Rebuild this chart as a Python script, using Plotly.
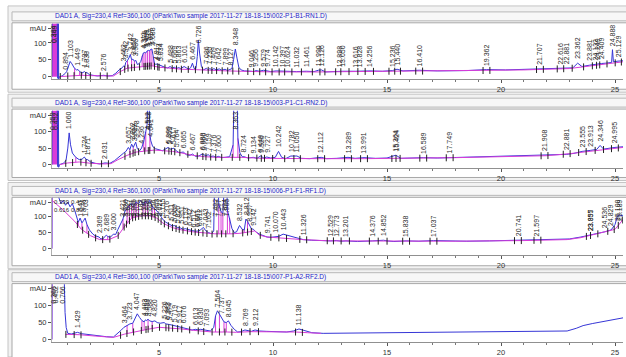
import numpy as np
import plotly.graph_objects as go

# ---------------------------------------------------------------------------
# Chromatogram data: (retention time [min], signal [mAU])
# ---------------------------------------------------------------------------
rn1_signal = [
    (0.30, 0), (0.32, 300), (0.52, 300), (0.54, 10), (0.56, -5), (0.58, 300), (0.60, -8), (0.63, 0),
    (0.75, 2), (0.85, 6), (0.894, 10), (0.95, 15), (1.02, 32), (1.103, 45), (1.18, 38), (1.28, 26),
    (1.38, 20), (1.449, 21), (1.52, 15), (1.62, 11), (1.737, 15), (1.78, 12), (1.838, 12), (1.95, 6),
    (2.1, 4), (2.3, 2), (2.576, 4), (2.75, 2), (2.95, 3), (3.1, 10), (3.25, 20), (3.38, 26),
    (3.452, 32), (3.50, 30), (3.542, 42), (3.62, 48), (3.70, 58), (3.742, 66), (3.80, 50), (3.855, 52),
    (3.92, 46), (3.986, 48), (4.05, 36), (4.12, 38), (4.20, 45), (4.26, 62), (4.311, 70), (4.376, 72),
    (4.42, 70), (4.459, 75), (4.531, 78), (4.58, 76), (4.617, 80), (4.688, 82), (4.74, 60), (4.80, 40),
    (4.86, 36), (4.917, 38), (4.973, 36), (5.034, 34), (5.12, 30), (5.25, 28), (5.38, 26), (5.488, 30),
    (5.58, 25), (5.669, 28), (5.76, 24), (5.863, 27), (5.95, 24), (6.02, 26), (6.101, 30), (6.2, 26),
    (6.32, 22), (6.40, 28), (6.467, 40), (6.54, 24), (6.62, 24), (6.68, 60), (6.726, 108), (6.78, 70),
    (6.86, 30), (6.95, 20), (7.086, 25), (7.16, 20), (7.23, 24), (7.32, 20), (7.409, 24), (7.5, 20),
    (7.642, 23), (7.75, 19), (7.899, 22), (8.0, 18), (8.127, 22), (8.2, 24), (8.27, 50), (8.348, 82),
    (8.42, 55), (8.5, 28), (8.6, 20), (8.75, 17), (9.046, 16), (9.15, 15), (9.256, 18), (9.4, 16),
    (9.579, 19), (9.774, 17), (9.9, 15), (10.142, 17), (10.397, 16), (10.624, 16), (11.032, 15),
    (11.461, 16), (11.8, 15), (11.990, 19), (12.126, 20), (12.3, 14), (12.898, 16), (13.050, 16),
    (13.616, 16), (13.828, 17), (14.256, 17), (14.8, 16), (15.236, 18), (15.440, 22), (15.7, 17),
    (16.410, 19), (17.2, 17), (18.5, 18), (19.362, 21), (20.2, 20), (21.707, 23), (22.2, 22),
    (22.616, 23), (22.881, 24), (23.15, 26), (23.362, 40), (23.55, 30), (23.881, 34), (24.132, 37),
    (24.249, 38), (24.409, 39), (24.6, 40), (24.85, 42), (24.888, 80), (24.93, 44), (25.129, 46),
    (25.35, 47),
]
rn1_baseline = [
    (0.62, 0), (1.0, 2), (1.6, 4), (2.0, 3), (2.6, 2), (3.0, 2), (3.3, 15), (3.6, 25), (4.0, 28),
    (4.3, 30), (4.7, 32), (5.0, 28), (5.5, 24), (6.0, 22), (6.5, 21), (7.0, 19), (7.5, 18), (8.0, 17),
    (8.6, 16), (9.0, 15), (10.0, 14), (12.0, 14), (15.0, 16), (18.0, 17), (21.0, 20), (23.0, 24),
    (24.0, 32), (25.35, 44),
]
rn1_peaks = [
    "0.364", "0.449", "0.894", "1.103", "1.449", "1.737", "1.838", "2.576", "3.452", "3.542", "3.742",
    "3.855", "3.986", "4.311", "4.376", "4.459", "4.531", "4.617", "4.688", "4.917", "4.973", "5.034",
    "5.488", "5.669", "5.863", "6.101", "6.467", "6.726", "7.086", "7.230", "7.409", "7.642", "7.899",
    "8.127", "8.348", "9.046", "9.256", "9.579", "9.774", "10.142", "10.397", "10.624", "11.032",
    "11.461", "11.990", "12.126", "12.898", "13.050", "13.616", "13.828", "14.256", "15.236", "15.440",
    "16.410", "19.362", "21.707", "22.616", "22.881", "23.362", "23.881", "24.132", "24.249", "24.409",
    "24.888", "25.129",
]
rn1_drops = [1.30, 1.52, 1.62, 1.78, 3.50, 3.62, 3.80, 3.92, 4.26, 4.34, 4.42, 4.50, 4.58, 4.65, 4.74]

rn2_signal = [
    (0.30, 0), (0.32, 300), (0.52, 300), (0.54, 5), (0.56, -6), (0.58, 300), (0.60, -8), (0.64, 0),
    (0.8, 4), (0.92, 12), (1.0, 50), (1.060, 96), (1.12, 60), (1.2, 35), (1.35, 22), (1.5, 15),
    (1.62, 16), (1.724, 23), (1.80, 16), (1.871, 15), (2.0, 8), (2.2, 4), (2.4, 2), (2.631, 5),
    (2.85, 4), (3.05, 12), (3.25, 25), (3.45, 35), (3.55, 40), (3.657, 52), (3.72, 45), (3.80, 62),
    (3.87, 52), (3.922, 60), (3.978, 68), (4.05, 48), (4.15, 42), (4.236, 50), (4.33, 70), (4.42, 100),
    (4.48, 122), (4.53, 300), (4.56, 300), (4.60, 90), (4.641, 72), (4.72, 55), (4.85, 48), (5.0, 44),
    (5.15, 42), (5.30, 48), (5.399, 52), (5.469, 48), (5.55, 46), (5.62, 50), (5.70, 44), (5.764, 42),
    (5.88, 36), (6.065, 38), (6.2, 30), (6.35, 28), (6.467, 32), (6.6, 25), (6.75, 26), (6.888, 32),
    (6.96, 30), (7.05, 27), (7.159, 30), (7.25, 24), (7.376, 26), (7.5, 22), (7.600, 25), (7.75, 21),
    (7.9, 22), (8.1, 24), (8.25, 60), (8.31, 300), (8.40, 300), (8.46, 80), (8.55, 35), (8.65, 24),
    (8.724, 24), (8.9, 20), (9.134, 22), (9.3, 19), (9.449, 26), (9.526, 24), (9.6, 20), (9.727, 23),
    (9.9, 20), (10.1, 22), (10.242, 40), (10.38, 22), (10.55, 18), (10.782, 26), (11.050, 26),
    (11.25, 19), (11.6, 18), (12.112, 22), (12.35, 18), (12.8, 19), (13.289, 22), (13.6, 19),
    (13.991, 21), (14.5, 19), (15.0, 20), (15.364, 28), (15.424, 27), (15.6, 19), (16.0, 20),
    (16.589, 21), (17.2, 20), (17.749, 21), (18.5, 22), (20.0, 25), (21.908, 28), (22.4, 28),
    (22.881, 31), (23.2, 34), (23.555, 40), (23.913, 43), (24.2, 46), (24.346, 58), (24.5, 47),
    (24.995, 52), (25.35, 54),
]
rn2_baseline = [
    (0.64, 0), (1.0, 5), (1.5, 8), (2.0, 4), (2.6, 2), (2.9, 3), (3.2, 15), (3.6, 28), (4.0, 38),
    (4.4, 42), (4.8, 44), (5.2, 42), (5.6, 40), (6.0, 35), (6.5, 28), (7.0, 24), (7.5, 22), (8.1, 22),
    (8.6, 22), (9.5, 19), (10.5, 18), (12.0, 18), (14.0, 18), (16.0, 19), (18.0, 21), (20.0, 24),
    (22.0, 27), (23.0, 33), (24.0, 42), (25.35, 52),
]
rn2_peaks = [
    "0.359", "0.452", "1.060", "1.724", "1.871", "2.631", "3.657", "3.802", "3.922", "3.978", "4.236",
    "4.512", "4.548", "4.641", "5.399", "5.469", "5.617", "5.764", "6.065", "6.467", "6.888", "6.960",
    "7.159", "7.376", "7.600", "8.363", "8.724", "9.134", "9.449", "9.526", "9.727", "10.242",
    "10.782", "11.050", "12.112", "13.289", "13.991", "15.364", "15.424", "16.589", "17.749",
    "21.908", "22.881", "23.555", "23.913", "24.346", "24.995",
]
rn2_drops = [1.35, 1.80, 3.72, 3.87, 4.33, 4.42, 4.60, 8.25, 8.46]

rf1_signal = [
    (0.30, 0), (0.31, 300), (0.50, 300), (0.60, 160), (0.70, 140), (0.80, 150), (0.90, 135),
    (1.00, 145), (1.10, 130), (1.20, 140), (1.30, 120), (1.40, 100), (1.46, 82), (1.54, 95),
    (1.62, 80), (1.70, 88), (1.76, 95), (1.84, 75), (1.95, 58), (2.1, 45), (2.2, 40), (2.369, 36),
    (2.45, 30), (2.56, 32), (2.689, 42), (2.75, 38), (2.86, 35), (3.000, 45), (3.1, 44), (3.2, 60),
    (3.3, 75), (3.42, 92), (3.5, 115), (3.6, 125), (3.7, 135), (3.8, 140), (3.9, 135), (4.0, 145),
    (4.1, 140), (4.2, 150), (4.3, 135), (4.4, 148), (4.5, 140), (4.6, 150), (4.7, 130), (4.8, 125),
    (4.9, 118), (5.0, 110), (5.1, 98), (5.2, 88), (5.3, 82), (5.4, 78), (5.511, 75), (5.6, 70),
    (5.669, 72), (5.8, 66), (5.95, 64), (6.05, 60), (6.153, 62), (6.3, 58), (6.45, 56), (6.6, 54),
    (6.75, 55), (6.812, 58), (6.95, 66), (7.043, 56), (7.162, 50), (7.3, 46), (7.4, 55), (7.46, 300),
    (7.55, 300), (7.62, 140), (7.72, 115), (7.80, 110), (7.86, 300), (7.94, 300), (8.0, 120),
    (8.1, 95), (8.2, 62), (8.3, 50), (8.4, 52), (8.532, 72), (8.65, 60), (8.74, 58), (8.812, 92),
    (8.88, 85), (8.957, 72), (9.05, 62), (9.142, 60), (9.25, 52), (9.4, 45), (9.55, 40), (9.741, 36),
    (9.9, 35), (10.070, 36), (10.25, 38), (10.443, 45), (10.6, 42), (10.8, 36), (11.0, 32),
    (11.326, 28), (11.7, 26), (12.1, 24), (12.529, 24), (12.773, 25), (13.0, 23), (13.201, 24),
    (13.7, 22), (14.376, 24), (14.852, 26), (15.0, 24), (15.3, 22), (15.838, 24), (16.4, 23),
    (17.037, 25), (17.5, 24), (18.5, 23), (19.5, 24), (20.741, 26), (21.2, 25), (21.597, 27),
    (22.3, 27), (23.0, 30), (23.5, 36), (23.895, 42), (23.957, 43), (24.3, 47), (24.536, 52),
    (24.829, 58), (25.0, 75), (25.100, 100), (25.189, 104), (25.35, 102),
]
rf1_baseline = [
    (0.31, 150), (0.8, 120), (1.3, 85), (1.6, 60), (2.0, 40), (2.4, 28), (2.8, 28), (3.2, 40),
    (3.5, 70), (3.8, 95), (4.2, 102), (4.6, 102), (4.9, 95), (5.2, 78), (5.6, 65), (6.0, 58),
    (6.5, 52), (7.0, 48), (7.3, 45), (7.45, 46), (8.2, 46), (8.6, 48), (9.2, 55), (9.4, 42),
    (9.741, 36), (10.5, 32), (11.3, 28), (12.5, 24), (15.0, 23), (18.0, 23), (21.0, 25), (22.9, 28),
    (23.5, 34), (24.5, 50), (25.0, 60), (25.35, 90),
]
rf1_peaks = [
    "1.541", "1.763", "2.369", "2.689", "3.000", "3.421", "3.520", "3.627", "3.781", "3.905", "4.031",
    "4.182", "4.340", "4.468", "4.600", "4.756", "4.903", "5.027", "5.155", "5.316", "5.511", "5.669",
    "5.826", "5.951", "6.153", "6.342", "6.512", "6.661", "6.812", "7.043", "7.162", "7.492", "7.597",
    "7.894", "7.966", "8.532", "8.812", "8.957", "9.142", "9.741", "10.070", "10.443", "11.326",
    "12.529", "12.773", "13.201", "14.376", "14.852", "15.838", "17.037", "20.741", "21.597",
    "23.895", "23.957", "24.536", "24.829", "25.100", "25.189",
]
rf1_front_peaks = ["0.339", "0.452", "0.616", "0.896"]
rf1_drops = [1.46, 1.62, 1.84, 2.2, 2.45, 2.56, 2.75, 3.42, 3.6, 3.7, 3.8, 3.9, 4.0, 4.1, 4.3, 4.4,
             4.5, 4.7, 4.8, 7.62, 7.72, 7.80, 8.0, 8.1, 8.65, 8.74, 8.88, 9.05]

rf2_signal = [
    (0.30, 0), (0.31, 300), (0.80, 300), (0.84, 150), (0.88, 80), (0.93, 35), (1.0, 18), (1.15, 16),
    (1.3, 19), (1.429, 21), (1.6, 17), (1.9, 14), (2.3, 11), (2.7, 8), (3.0, 7), (3.2, 18), (3.35, 28),
    (3.464, 36), (3.6, 42), (3.723, 46), (3.85, 48), (3.95, 60), (4.047, 76), (4.15, 65), (4.25, 56),
    (4.35, 52), (4.403, 58), (4.459, 56), (4.52, 60), (4.588, 55), (4.70, 53), (4.820, 55), (4.92, 50),
    (5.05, 48), (5.226, 50), (5.30, 46), (5.383, 46), (5.474, 44), (5.6, 42), (5.719, 40), (5.82, 38),
    (5.917, 37), (6.076, 35), (6.3, 30), (6.45, 28), (6.613, 30), (6.72, 28), (6.830, 30), (6.95, 28),
    (7.093, 26), (7.25, 25), (7.4, 35), (7.48, 70), (7.564, 85), (7.65, 75), (7.737, 65), (7.85, 52),
    (7.95, 50), (8.045, 55), (8.15, 42), (8.3, 30), (8.45, 22), (8.6, 23), (8.769, 28), (8.9, 26),
    (9.05, 24), (9.212, 28), (9.4, 25), (9.7, 24), (10.2, 24), (10.6, 22), (10.9, 25), (11.138, 31),
    (11.4, 26), (11.7, 20), (12.2, 18), (13.5, 19), (15.0, 20), (17.0, 20), (19.0, 21), (20.0, 22),
    (21.5, 23), (22.9, 25), (23.3, 33), (23.6, 41), (24.0, 47), (24.5, 53), (25.0, 58), (25.35, 64),
]
rf2_baseline = [
    (0.9, 15), (1.5, 14), (2.2, 10), (3.0, 6), (3.5, 16), (4.0, 24), (4.5, 30), (5.0, 36), (5.5, 34),
    (6.0, 31), (6.5, 27), (7.0, 23), (7.35, 22), (8.0, 22), (8.4, 21), (9.0, 23), (10.0, 23),
    (11.0, 22), (11.5, 20), (12.1, 18),
]
rf2_peaks = [
    "0.366", "0.452", "0.766", "1.429", "3.464", "3.723", "4.047", "4.403", "4.459", "4.588", "4.820",
    "5.226", "5.383", "5.474", "5.719", "5.917", "6.076", "6.613", "6.830", "7.093", "7.564", "7.737",
    "8.045", "8.769", "9.212", "11.138",
]
rf2_drops = [3.6, 3.85, 4.25, 4.35, 4.52, 4.70, 7.48, 7.65, 7.85, 7.95]

sample_files = ["002-P1-B1-RN1.D", "003-P1-C1-RN2.D", "006-P1-F1-RF1.D", "007-P1-A2-RF2.D"]
title_prefix = "DAD1 A, Sig=230,4 Ref=360,100 (0Park\\Two sample 2017-11-27 18-18-15\\"
x_ticks = [5, 10, 15, 20, 25]
y_ticks = [0, 50, 100]

# ---------------------------------------------------------------------------
# Page geometry (pixels) and styling
# ---------------------------------------------------------------------------
W, H = 626, 357
X_RANGE = [0.307, 25.35]
AX_LEFT, AX_RIGHT = 52, 623

# per panel: zero line px, px per mAU, axes top/bottom px, frames
panels_geom = [
    dict(zero=77.3, ppm=0.340, top=24.0, bottom=80.0, outer=(8, 6, 93), title=(12, 21), box=(23, 90)),
    dict(zero=166.0, ppm=0.333, top=111.7, bottom=169.3, outer=(8, 95, 182), title=(99, 108), box=(110, 179)),
    dict(zero=250.7, ppm=0.324, top=199.3, bottom=256.7, outer=(8, 184, 271), title=(188, 197), box=(199, 268)),
    dict(zero=342.3, ppm=0.340, top=286.7, bottom=345.0, outer=(8, 272, 360), title=(275, 284), box=(286, 362)),
]

panels_data = [
    dict(sig=rn1_signal, base=rn1_baseline, peaks=rn1_peaks, drops=rn1_drops, front=0.54, hpeaks=[]),
    dict(sig=rn2_signal, base=rn2_baseline, peaks=rn2_peaks, drops=rn2_drops, front=0.54, hpeaks=[]),
    dict(sig=rf1_signal, base=rf1_baseline, peaks=rf1_peaks, drops=rf1_drops, front=0.33, hpeaks=rf1_front_peaks),
    dict(sig=rf2_signal, base=rf2_baseline, peaks=rf2_peaks, drops=rf2_drops, front=0.46, hpeaks=[]),
]

BLUE = "#3636d6"
MAGENTA = "#d83cd8"
FRAME = "#c4c4c4"
FONT = "Liberation Sans, Arial, sans-serif"
LABEL_FS = 7


def px_x(p):
    return p / W


def px_y(p):
    return 1 - p / H


fig = go.Figure()
shapes = []
annotations = []

for i, (g, d) in enumerate(zip(panels_geom, panels_data)):
    k = "" if i == 0 else str(i + 1)
    xa, ya = "x" + k, "y" + k

    y_lo = (g["zero"] - g["bottom"]) / g["ppm"]
    y_hi = (g["zero"] - g["top"]) / g["ppm"]

    t, s = (np.array(v, dtype=float) for v in zip(*d["sig"]))
    bt, bs = (np.array(v, dtype=float) for v in zip(*d["base"]))

    # frames: outer panel, title strip, plot box
    ox, oy0, oy1 = g["outer"]
    shapes.append(dict(type="rect", xref="paper", yref="paper", layer="below",
                       x0=px_x(ox), x1=px_x(W + 2), y0=px_y(oy1), y1=px_y(oy0),
                       line=dict(color=FRAME, width=1), fillcolor="#f2f2f2"))
    shapes.append(dict(type="rect", xref="paper", yref="paper", layer="below",
                       x0=px_x(12), x1=px_x(W + 2), y0=px_y(g["title"][1]), y1=px_y(g["title"][0]),
                       line=dict(color="#b8b8b8", width=1), fillcolor="#f7f7f7"))
    shapes.append(dict(type="rect", xref="paper", yref="paper", layer="below",
                       x0=px_x(12), x1=px_x(W + 2), y0=px_y(g["box"][1]), y1=px_y(g["box"][0]),
                       line=dict(color="#a8a8a8", width=1), fillcolor="white"))

    annotations.append(dict(xref="paper", yref="paper", x=px_x(53),
                            y=px_y((g["title"][0] + g["title"][1]) / 2),
                            text=title_prefix + sample_files[i] + ")", showarrow=False,
                            xanchor="left", yanchor="middle",
                            font=dict(family=FONT, size=6.5, color="#2424c8")))

    # solvent front, filled
    m = t <= d["front"]
    fig.add_trace(go.Scatter(x=t[m], y=s[m], xaxis=xa, yaxis=ya, mode="lines", fill="tozeroy",
                             fillcolor=MAGENTA, line=dict(color=MAGENTA, width=1), hoverinfo="skip"))

    # drop lines from baseline to signal
    dx, dy = [], []
    for td in d["drops"]:
        dx += [td, td, None]
        dy += [float(np.interp(td, bt, bs)), float(np.interp(td, t, s)), None]
    fig.add_trace(go.Scatter(x=dx, y=dy, xaxis=xa, yaxis=ya, mode="lines",
                             line=dict(color=MAGENTA, width=1), hoverinfo="skip"))

    # signal and integration baseline
    fig.add_trace(go.Scatter(x=t, y=s, xaxis=xa, yaxis=ya, mode="lines",
                             line=dict(color=BLUE, width=1)))
    fig.add_trace(go.Scatter(x=bt, y=bs, xaxis=xa, yaxis=ya, mode="lines",
                             line=dict(color=MAGENTA, width=1)))

    # peak start/stop ticks on the baseline
    rts = sorted(float(p) for p in d["peaks"])
    tk = [rts[0] - 0.12]
    for a, b in zip(rts[:-1], rts[1:]):
        if b - a > 0.6:
            tk += [a + 0.15, b - 0.15]
        else:
            tk.append((a + b) / 2)
    tk.append(rts[-1] + 0.15)
    tk = [v for v in tk if bt[0] <= v <= min(bt[-1], X_RANGE[1])]
    fig.add_trace(go.Scatter(x=tk, y=np.interp(tk, bt, bs), xaxis=xa, yaxis=ya, mode="markers",
                             marker=dict(symbol="line-ns", size=5, line=dict(color="#222", width=1)),
                             hoverinfo="skip"))

    # retention-time labels above each peak
    for p in d["peaks"]:
        rt = float(p)
        near = s[np.abs(t - rt) < 0.03]
        apex = max([float(np.interp(rt, t, s))] + list(near))
        digits = sum(c.isdigit() for c in p)
        length = (LABEL_FS * (0.556 * digits + 0.278) + 1) / g["ppm"]
        ybot = apex + 3 / g["ppm"]
        if ybot + length > y_hi:
            yy, yanc = y_hi, "top"
        else:
            yy, yanc = ybot, "bottom"
        annotations.append(dict(xref=xa, yref=ya, x=rt, y=yy, text=p, textangle=-90,
                                showarrow=False, xanchor="center", yanchor=yanc, borderpad=0,
                                font=dict(family=FONT, size=LABEL_FS, color="#2a2a2a")))

    # labels of the off-scale front, set horizontally in a 2x2 block
    for j, p in enumerate(d["hpeaks"]):
        col, row = j % 2, j // 2
        annotations.append(dict(xref=xa, yref=ya, x=X_RANGE[0] + 0.05 + 0.72 * col,
                                y=y_hi - (0.5 + 7.5 * row) / g["ppm"],
                                text=p, showarrow=False, xanchor="left", yanchor="top",
                                borderpad=0, font=dict(family=FONT, size=6, color="#2a2a2a")))

    mau_val = y_hi - 4.5 / g["ppm"]
    fig.update_layout(**{
        "xaxis" + k: dict(domain=[px_x(AX_LEFT), px_x(AX_RIGHT)], range=X_RANGE, anchor=ya,
                          tickmode="array", tickvals=x_ticks, ticks="outside", ticklen=3,
                          tickcolor="#555", showgrid=False, zeroline=False, showline=True,
                          linecolor="#909090", linewidth=1,
                          minor=dict(dtick=1, tick0=0, ticks="outside", ticklen=2, tickcolor="#777"),
                          tickfont=dict(family=FONT, size=7.5, color="#333")),
        "yaxis" + k: dict(domain=[px_y(g["bottom"]), px_y(g["top"])], range=[y_lo, y_hi],
                          anchor=xa, tickmode="array", tickvals=y_ticks + [mau_val],
                          ticktext=[str(v) for v in y_ticks] + ["mAU"], ticks="outside",
                          ticklen=3, tickcolor="#555", showgrid=False, zeroline=False,
                          showline=True, linecolor="#b0b0b0", linewidth=1,
                          tickfont=dict(family=FONT, size=7.5, color="#333")),
    })

fig.update_layout(width=W, height=H, margin=dict(l=0, r=0, t=0, b=0),
                  paper_bgcolor="white", plot_bgcolor="white", showlegend=False,
                  shapes=shapes, annotations=annotations)

fig.write_html("out.html")
